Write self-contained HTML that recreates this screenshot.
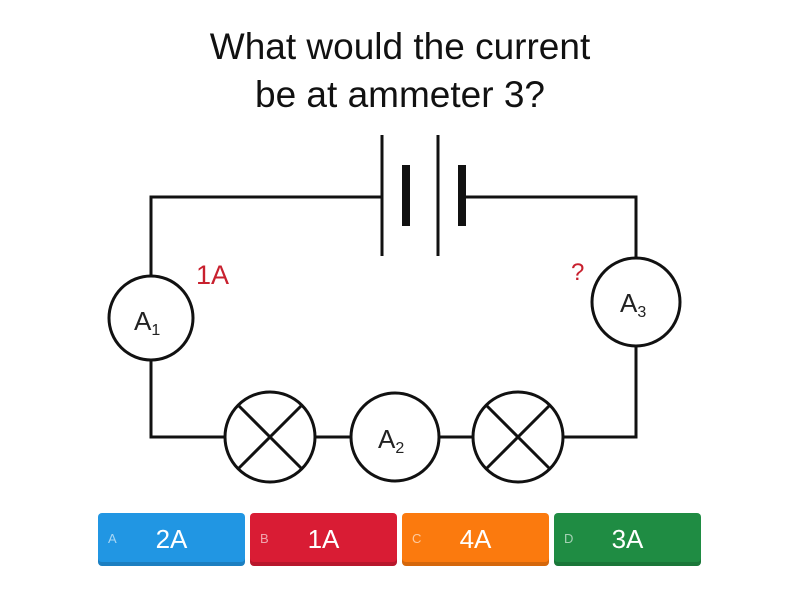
<!DOCTYPE html>
<html><head><style>
body{margin:0;width:800px;height:600px;background:#fff;font-family:"Liberation Sans",sans-serif;position:relative;overflow:hidden}
.t{position:absolute;left:0;width:800px;text-align:center;font-size:37px;color:#111}
.b{position:absolute;top:513px;width:147px;height:53px;border-radius:4px;color:#fff;box-shadow:inset 0 -4px 0 rgba(0,0,0,.15)}
.b .l{position:absolute;left:10px;top:18px;font-size:13px;opacity:.6}
.b .v{position:absolute;left:0;width:147px;text-align:center;top:11px;font-size:26px}
</style></head><body>
<div class="t" style="top:26px">What would the current</div>
<div class="t" style="top:74px">be at ammeter 3?</div>
<svg width="800" height="600" style="position:absolute;left:0;top:0" font-family="Liberation Sans, sans-serif">
<g stroke="#111" stroke-width="3" fill="none">
<polyline points="382,197 151,197 151,276"/>
<polyline points="151,360 151,437 225,437"/>
<line x1="315" y1="437" x2="351" y2="437"/>
<line x1="439" y1="437" x2="473" y2="437"/>
<polyline points="563,437 636,437 636,346"/>
<polyline points="636,258 636,197 462,197"/>
<line x1="382" y1="135" x2="382" y2="256"/>
<line x1="438" y1="135" x2="438" y2="256"/>
<line x1="406" y1="165" x2="406" y2="226" stroke-width="8"/>
<line x1="462" y1="165" x2="462" y2="226" stroke-width="8"/>
<circle cx="151" cy="318" r="42"/>
<circle cx="636" cy="302" r="44"/>
<circle cx="270" cy="437" r="45"/>
<circle cx="395" cy="437" r="44"/>
<circle cx="518" cy="437" r="45"/>
<line x1="238" y1="405" x2="302" y2="469"/><line x1="302" y1="405" x2="238" y2="469"/>
<line x1="486" y1="405" x2="550" y2="469"/><line x1="550" y1="405" x2="486" y2="469"/>
</g>
<g fill="#222" font-size="26">
<text x="134" y="330">A<tspan font-size="16" dy="5">1</tspan></text>
<text x="620" y="312">A<tspan font-size="16" dy="5">3</tspan></text>
<text x="378" y="448">A<tspan font-size="16" dy="5">2</tspan></text>
</g>
<text x="196" y="284" fill="#c8202e" font-size="27">1A</text>
<text x="571" y="280" fill="#c8202e" font-size="24">?</text>
</svg>
<div class="b" style="left:98px;background:#2196e3"><span class="l">A</span><span class="v">2A</span></div>
<div class="b" style="left:250px;background:#d91c34"><span class="l">B</span><span class="v">1A</span></div>
<div class="b" style="left:402px;background:#fb7a0e"><span class="l">C</span><span class="v">4A</span></div>
<div class="b" style="left:554px;background:#1f8c43"><span class="l">D</span><span class="v">3A</span></div>
</body></html>
